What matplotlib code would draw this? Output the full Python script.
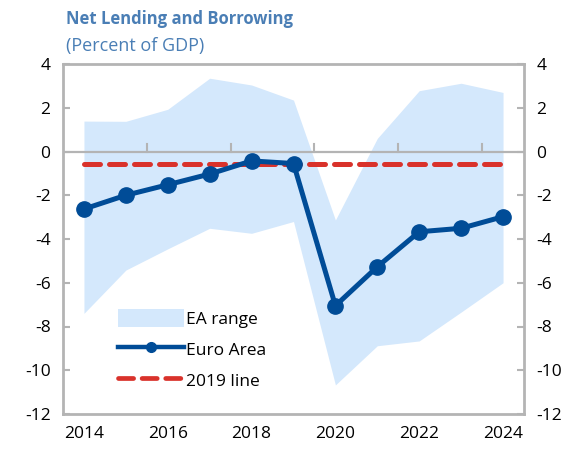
import matplotlib
matplotlib.use("Agg")
import matplotlib.pyplot as plt
from matplotlib.lines import Line2D
from matplotlib.patches import Patch
import numpy as np

plt.rcParams['font.family'] = ['Open Sans', 'DejaVu Sans']
plt.rcParams['axes.unicode_minus'] = False

years = list(range(2014, 2025))
euro_area = [-2.63, -2.0, -1.52, -1.03, -0.43, -0.55, -7.05, -5.27, -3.67, -3.51, -2.98]
range_high = [1.39, 1.38, 1.93, 3.35, 3.04, 2.35, -3.13, 0.60, 2.78, 3.12, 2.70]
range_low = [-7.40, -5.42, -4.45, -3.51, -3.74, -3.20, -10.67, -8.88, -8.66, -7.34, -6.0]
line_2019 = -0.55

BLUE = '#004c97'
BAND = '#d4e8fc'
RED = '#d9322b'
GREY = '#b4b4b4'

fig = plt.figure(figsize=(5.71, 4.51), dpi=100)
ax = fig.add_axes([63 / 571, 1 - 414 / 451, (524 - 63) / 571, (414 - 64) / 451])

ax.fill_between(years, range_low, range_high, color=BAND, lw=0, zorder=1)
ax.axhline(0, color=GREY, lw=1.6, zorder=2)
ax.plot([years[0], years[-1]], [line_2019, line_2019], color=RED, lw=3.6,
        dashes=(3.2, 1.8), dash_capstyle='round', zorder=3)
ax.plot(years, euro_area, color=BLUE, lw=3.6, marker='o', markersize=11, zorder=4)

# category-style tick marks sitting on the zero line
for x in np.arange(2015.5, 2024, 2):
    ax.plot([x, x], [0, 0.35], color=GREY, lw=1.5, zorder=2)

ax.set_xlim(2013.5, 2024.5)
ax.set_ylim(-12, 4)
ax.set_xticks(range(2014, 2025, 2))
ax.set_yticks(range(-12, 5, 2))
ax.tick_params(axis='x', length=0, labelsize=12.5, pad=9)
ax.tick_params(axis='y', direction='in', length=5, width=1.5, color=GREY,
               labelsize=12.5, pad=9, right=True, labelright=True)
for side in ['left', 'right', 'top', 'bottom']:
    ax.spines[side].set_color(GREY)
    ax.spines[side].set_linewidth(2)

handles = [
    Patch(facecolor=BAND, edgecolor='none', label='EA range'),
    Line2D([], [], color=BLUE, lw=3.2, marker='o', markersize=7, label='Euro Area'),
    Line2D([], [], color=RED, lw=3.4, dashes=(3.2, 1.8), dash_capstyle='round', label='2019 line'),
]
ax.legend(handles=handles, loc='lower left', bbox_to_anchor=(0.085, 0.025), frameon=False,
          fontsize=12.5, handlelength=3.8, handleheight=1.2, handletextpad=0.15,
          labelspacing=0.7)

fig.text(66 / 571, 1 - 19 / 451, 'Net Lending and Borrowing', color='#4a7eb5',
         fontsize=12, fontweight='bold', va='center')
fig.text(66 / 571, 1 - 46 / 451, '(Percent of GDP)', color='#4a7eb5',
         fontsize=13, va='center')

fig.savefig('out.png', dpi=100)
